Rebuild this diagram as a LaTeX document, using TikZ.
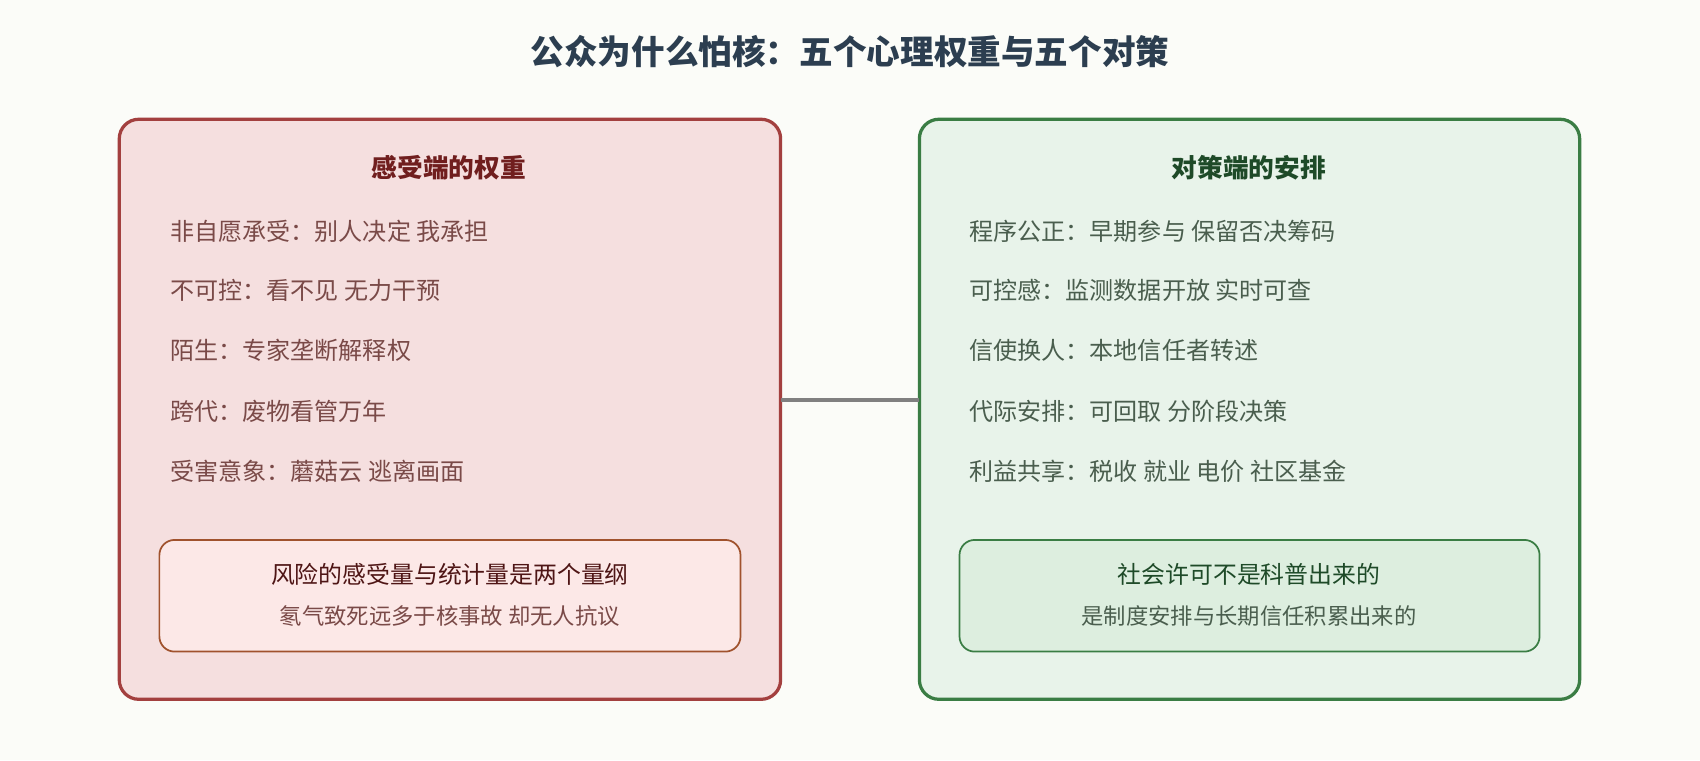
\documentclass[tikz,border=0pt]{standalone}
\usepackage{fontspec}
\setmainfont{Noto Sans CJK SC}
\begin{document}
\begin{tikzpicture}[x=1pt,y=-1pt,
  outer/.style={rounded corners=18pt,line width=3pt},
  inner/.style={rounded corners=14pt,line width=1.6pt},
  item/.style={anchor=west,font=\fontsize{22.2}{26}\selectfont,inner sep=0pt},
  head/.style={font=\fontsize{23.7}{28}\selectfont\bfseries},
  l1/.style={font=\fontsize{22}{26}\selectfont},
  l2/.style={font=\fontsize{20.6}{24}\selectfont}]
\definecolor{bg}{HTML}{FBFCF8}
\definecolor{lfill}{HTML}{F5DFDF}\definecolor{ldraw}{HTML}{A3403F}
\definecolor{lin}{HTML}{FCE8E7}\definecolor{lindraw}{HTML}{A0522D}
\definecolor{ltext}{HTML}{7A4A48}\definecolor{lhead}{HTML}{701E1E}
\definecolor{rfill}{HTML}{E8F3EA}\definecolor{rdraw}{HTML}{3A7D44}
\definecolor{rin}{HTML}{DDEEDF}\definecolor{rtext}{HTML}{4A5E4E}\definecolor{rhead}{HTML}{1E4A28}
\definecolor{title}{HTML}{2C3E50}
\fill[bg] (0,0) rectangle (1568,701);
\useasboundingbox (0,0) rectangle (1568,701);
\node[font=\fontsize{31}{36}\selectfont\bfseries,text=title] (t) at (784,48) {公众为什么怕核：五个心理权重与五个对策};
% left
\draw[outer,fill=lfill,draw=ldraw] (110,110) rectangle (720,645);
\coordinate (L) at (720,369);
\node[head,text=lhead] (lh) at (414,155) {感受端的权重};
\node[item,text=ltext] (l1) at (157,213) {非自愿承受：别人决定 我承担};
\node[item,text=ltext] (l2) at (157,268) {不可控：看不见 无力干预};
\node[item,text=ltext] (l3) at (157,323) {陌生：专家垄断解释权};
\node[item,text=ltext] (l4) at (157,379) {跨代：废物看管万年};
\node[item,text=ltext] (l5) at (157,435) {受害意象：蘑菇云 逃离画面};
\draw[inner,fill=lin,draw=lindraw] (147,498) rectangle (683,601);
\node[l1,text=lhead!70!black] (lb1) at (415,530) {风险的感受量与统计量是两个量纲};
\node[l2,text=ltext] (lb2) at (415,568) {氡气致死远多于核事故 却无人抗议};
% right
\draw[outer,fill=rfill,draw=rdraw] (848,110) rectangle (1457,645);
\coordinate (R) at (848,369);
\node[head,text=rhead] (rh) at (1152,155) {对策端的安排};
\node[item,text=rtext] (r1) at (894,213) {程序公正：早期参与 保留否决筹码};
\node[item,text=rtext] (r2) at (894,268) {可控感：监测数据开放 实时可查};
\node[item,text=rtext] (r3) at (894,323) {信使换人：本地信任者转述};
\node[item,text=rtext] (r4) at (894,379) {代际安排：可回取 分阶段决策};
\node[item,text=rtext] (r5) at (894,435) {利益共享：税收 就业 电价 社区基金};
\draw[inner,fill=rin,draw=rdraw] (885,498) rectangle (1420,601);
\node[l1,text=rhead] (rb1) at (1152,530) {社会许可不是科普出来的};
\node[l2,text=rtext] (rb2) at (1152,568) {是制度安排与长期信任积累出来的};
\draw[line width=3pt,color=gray] (L) -- (R);
\end{tikzpicture}
\end{document}
